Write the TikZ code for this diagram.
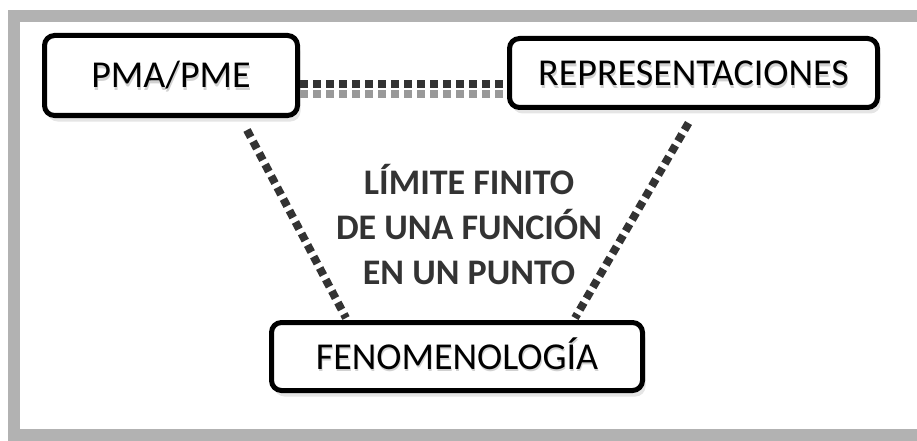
\documentclass[tikz,border=0pt]{standalone}
\usepackage{fontspec}
\setmainfont{Carlito}
\usetikzlibrary{shadows}
\tikzstyle{frame}=[draw=black!30, line width=12pt]
\tikzstyle{concept}=[draw, rounded corners=10pt, line width=5pt, fill=white, inner sep=0pt, text height=25pt, text depth=0pt, drop shadow={shadow xshift=3pt, shadow yshift=-6pt, fill=black!20}, font=\fontsize{38}{40}\selectfont]
\tikzstyle{link}=[draw=black!80, line width=8pt, dash pattern=on 8pt off 5pt]
\tikzstyle{link shadow}=[link, draw=black!40]
\tikzstyle{topic}=[align=center, text=black!80, font=\fontsize{36}{45}\selectfont\bfseries]
\newcommand{\shadowed}[1]{\makebox[0pt][l]{\hspace{0.8pt}\raisebox{-2.5pt}{\color{black!18}#1}}#1}

\begin{document}
\begin{tikzpicture}[x=1pt, y=-1pt]
      \useasboundingbox (0,0) rectangle (917,441);
      \draw[frame] (14,16) rectangle (930,435);
      \node[concept, minimum width=253pt, minimum height=80pt] (pma) at (171,75.5) {\shadowed{PMA/PME}};
      \node[concept, minimum width=368pt, minimum height=69pt] (rep) at (693.5,73) {\shadowed{REPRESENTACIONES}};
      \node[concept, minimum width=371pt, minimum height=68pt] (fen) at (457,356.5) {\shadowed{FENOMENOLOGÍA}};
      \node[topic] (lim) at (469,225) {LÍMITE FINITO\\DE UNA FUNCIÓN\\EN UN PUNTO};
      % links between the three boxes
      \draw[link shadow] ([yshift=-19pt]pma.east) -- ([yshift=-19pt]pma.east -| rep.west);
      \draw[link] ([yshift=-9pt]pma.east) -- ([yshift=-9pt]pma.east -| rep.west);
      \draw[link] ([xshift=76pt, yshift=-12pt]pma.south) -- ([xshift=-111pt, yshift=2pt]fen.north);
      \draw[link] ([xshift=-5pt, yshift=-13pt]rep.south) -- ([xshift=118pt, yshift=2pt]fen.north);
    \end{tikzpicture}
\end{document}
